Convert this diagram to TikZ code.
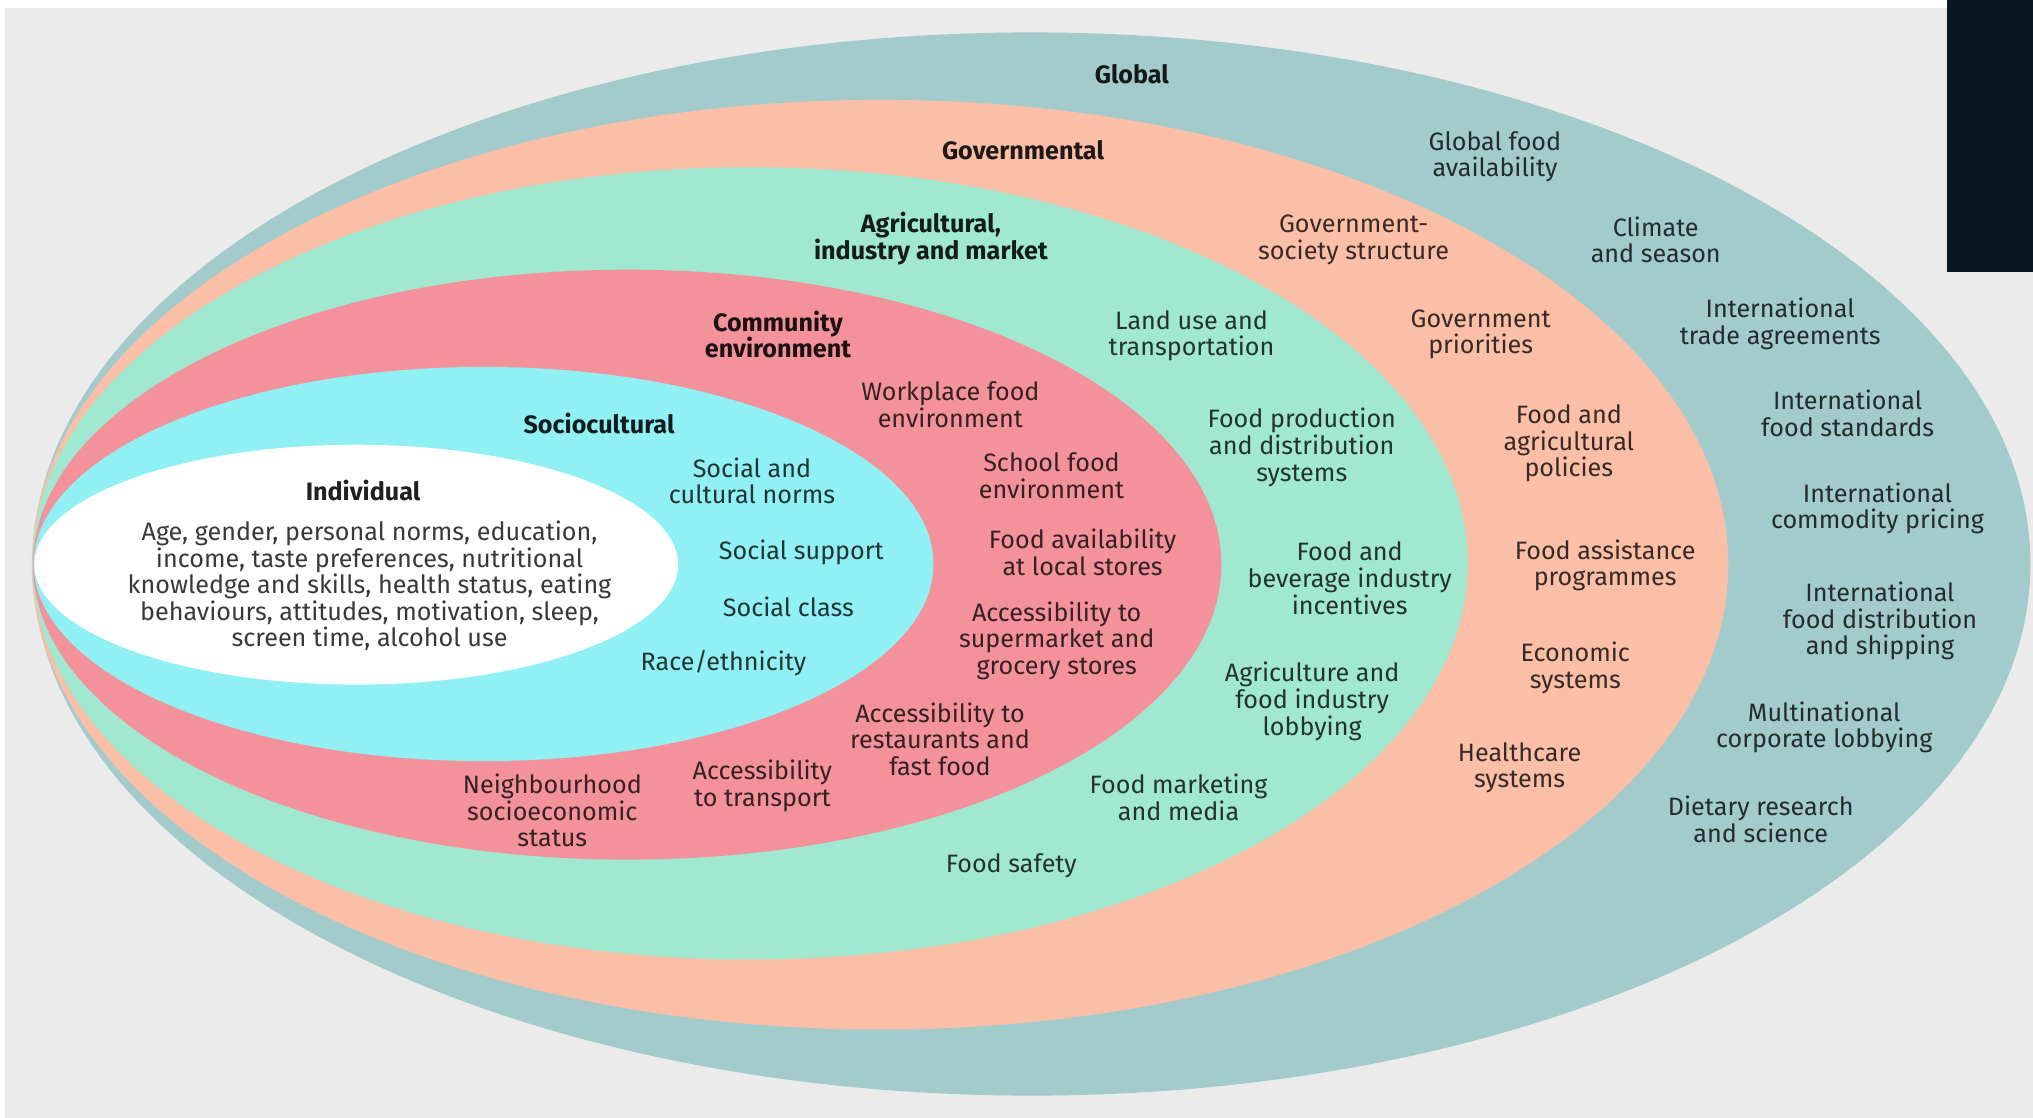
\documentclass[tikz,border=0pt]{standalone}
\usepackage{fontspec}
\setmainfont{Fira Sans}
\definecolor{bgGrey}{HTML}{EBEBEB}
\definecolor{cGlobal}{HTML}{A3CBCB}
\definecolor{cGov}{HTML}{FBBFA8}
\definecolor{cAgri}{HTML}{A0E8D0}
\definecolor{cComm}{HTML}{F4929C}
\definecolor{cSocio}{HTML}{90F0F4}
\definecolor{cDark}{HTML}{0A1620}
\tikzset{
  lab/.style={align=center, font=\fontsize{9.7}{10.25}\selectfont, text=black, text opacity=0.78, inner sep=0pt},
  head/.style={align=center, font=\fontsize{9.7}{10.25}\selectfont\bfseries, text=black, text opacity=0.88, inner sep=0pt}
}
\begin{document}
\begin{tikzpicture}[x=0.5pt,y=-0.5pt]
\useasboundingbox (0,0) rectangle (1568,862);
\fill[white] (0,0) rectangle (1568,862);
\fill[bgGrey] (4,6) rectangle (1568,862);
\fill[cDark] (1502,0) rectangle (1568,210);
% rings
\fill[cGlobal] (795.5,435) ellipse [x radius=385.25pt, y radius=205pt];
\fill[cGov] (678.75,435.5) ellipse [x radius=327.125pt, y radius=179.25pt];
\fill[cAgri] (578.5,434.5) ellipse [x radius=276.75pt, y radius=152.75pt];
\fill[cComm] (483.75,435.5) ellipse [x radius=229.125pt, y radius=113.75pt];
\fill[cSocio] (373,435) ellipse [x radius=173.5pt, y radius=76pt];
\fill[white] (274.75,435.5) ellipse [x radius=124.125pt, y radius=46.25pt];
% headings
\node[head] (hGlobal) at (873,57) {Global};
\node[head] (hGov) at (789,116) {Governmental};
\node[head] (hAgri) at (718,184) {Agricultural,\\industry and market};
\node[head] (hComm) at (600,258) {Community\\environment};
\node[head] (hSocio) at (462,327) {Sociocultural};
\node[head] (hInd) at (280,378) {Individual};
% individual
\node[lab] (tInd) at (285,452) {Age, gender, personal norms, education,\\income, taste preferences, nutritional\\knowledge and skills, health status, eating\\behaviours, attitudes, motivation, sleep,\\screen time, alcohol use};
% sociocultural
\node[lab] (s1) at (580,371) {Social and\\cultural norms};
\node[lab] (s2) at (618,426) {Social support};
\node[lab] (s3) at (608,468) {Social class};
\node[lab] (s4) at (558,511) {Race/ethnicity};
% community
\node[lab] (c1) at (733,312) {Workplace food\\environment};
\node[lab] (c2) at (811,367) {School food\\environment};
\node[lab] (c3) at (835,426) {Food availability\\at local stores};
\node[lab] (c4) at (815,494) {Accessibility to\\supermarket and\\grocery stores};
\node[lab] (c5) at (725,570) {Accessibility to\\restaurants and\\fast food};
\node[lab] (c6) at (588,606) {Accessibility\\to transport};
\node[lab] (c7) at (426,625) {Neighbourhood\\socioeconomic\\status};
% agricultural
\node[lab] (a1) at (919,259) {Land use and\\transportation};
\node[lab] (a2) at (1004,345) {Food production\\and distribution\\systems};
\node[lab] (a3) at (1041,446) {Food and\\beverage industry\\incentives};
\node[lab] (a4) at (1012,541) {Agriculture and\\food industry\\lobbying};
\node[lab] (a5) at (909,615) {Food marketing\\and media};
\node[lab] (a6) at (780,668) {Food safety};
% governmental
\node[lab] (g1) at (1044,185) {Government-\\society structure};
\node[lab] (g2) at (1142,258) {Government\\priorities};
\node[lab] (g3) at (1210,342) {Food and\\agricultural\\policies};
\node[lab] (g4) at (1238,436) {Food assistance\\programmes};
\node[lab] (g5) at (1215,515) {Economic\\systems};
\node[lab] (g6) at (1172,592) {Healthcare\\systems};
% global
\node[lab] (o1) at (1153,121) {Global food\\availability};
\node[lab] (o2) at (1277,185) {Climate\\and season};
\node[lab] (o3) at (1373,250) {International\\trade agreements};
\node[lab] (o4) at (1425,319) {International\\food standards};
\node[lab] (o5) at (1448,392) {International\\commodity pricing};
\node[lab] (o6) at (1450,479) {International\\food distribution\\and shipping};
\node[lab] (o7) at (1407,561) {Multinational\\corporate lobbying};
\node[lab] (o8) at (1358,632) {Dietary research\\and science};
\end{tikzpicture}
\end{document}
